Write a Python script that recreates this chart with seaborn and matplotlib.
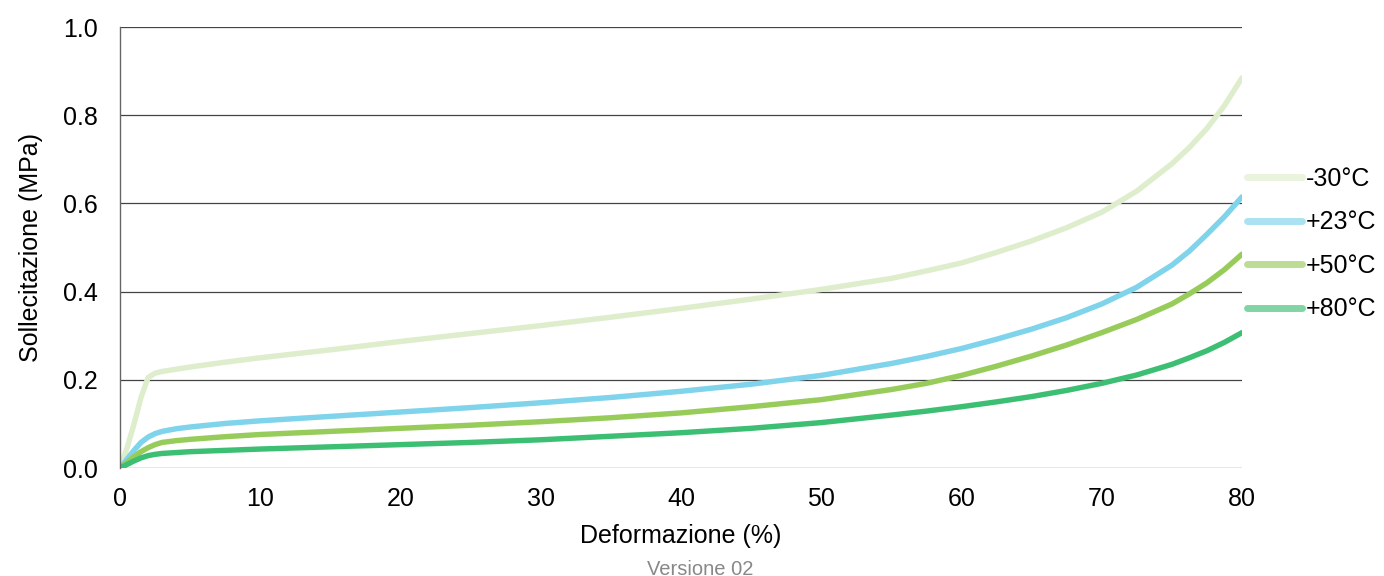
import numpy as np
import pandas as pd
import seaborn as sns
import matplotlib.pyplot as plt

# strain (%) sampled along each curve
strain = [0, 0.5, 1, 1.5, 2, 2.5, 3, 4, 5, 7.5, 10, 15, 20, 25, 30, 35,
          40, 45, 50, 55, 57.5, 60, 62.5, 65, 67.5, 70, 72.5, 75, 76.25,
          77.5, 78.75, 80]

stress_m30 = [0, 0.045, 0.10, 0.16, 0.205, 0.215, 0.219, 0.224, 0.229, 0.24,
              0.25, 0.268, 0.287, 0.305, 0.323, 0.342, 0.362, 0.383, 0.405,
              0.43, 0.447, 0.465, 0.489, 0.515, 0.545, 0.58, 0.628, 0.69,
              0.727, 0.77, 0.822, 0.885]
stress_p23 = [0, 0.02, 0.04, 0.058, 0.07, 0.078, 0.083, 0.089, 0.093, 0.101,
              0.107, 0.117, 0.127, 0.137, 0.148, 0.16, 0.174, 0.19, 0.21,
              0.237, 0.253, 0.271, 0.292, 0.315, 0.341, 0.372, 0.41, 0.46,
              0.492, 0.53, 0.57, 0.615]
stress_p50 = [0, 0.013, 0.026, 0.037, 0.046, 0.053, 0.058, 0.062, 0.065, 0.071,
              0.076, 0.083, 0.09, 0.097, 0.105, 0.114, 0.125, 0.139, 0.155,
              0.178, 0.192, 0.21, 0.231, 0.254, 0.279, 0.307, 0.337, 0.372,
              0.395, 0.42, 0.45, 0.485]
stress_p80 = [0, 0.008, 0.016, 0.023, 0.028, 0.031, 0.033, 0.035, 0.037, 0.04,
              0.043, 0.048, 0.053, 0.058, 0.064, 0.072, 0.08, 0.09, 0.103,
              0.12, 0.129, 0.139, 0.15, 0.162, 0.176, 0.192, 0.211, 0.235,
              0.25, 0.266, 0.285, 0.307]

labels = ["-30°C", "+23°C", "+50°C", "+80°C"]
colors = ["#deedcc", "#7fd3ea", "#98cc5a", "#3dbf73"]

frames = []
for lab, vals in zip(labels, [stress_m30, stress_p23, stress_p50, stress_p80]):
    frames.append(pd.DataFrame({"strain": strain, "stress": vals, "temp": lab}))
df = pd.concat(frames, ignore_index=True)

sns.set_theme(style="white")
plt.rcParams["font.family"] = ["Liberation Sans", "DejaVu Sans"]
plt.rcParams["text.color"] = "black"
plt.rcParams["axes.labelcolor"] = "black"
plt.rcParams["xtick.color"] = "black"
plt.rcParams["ytick.color"] = "black"

fig = plt.figure(figsize=(13.84, 5.76), dpi=100)
ax = fig.add_axes([0.0867, 0.1875, 0.8107, 0.7655])

sns.lineplot(data=df, x="strain", y="stress", hue="temp", hue_order=labels,
             palette=colors, linewidth=3.9, ax=ax, legend=False)

ax.set_xlim(0, 80)
ax.set_ylim(0, 1.0)
ax.set_xticks(np.arange(0, 81, 10))
ax.set_yticks(np.arange(0, 1.01, 0.2))
ax.set_yticklabels([f"{v:.1f}" for v in np.arange(0, 1.01, 0.2)])
ax.tick_params(axis="x", labelsize=18, length=0, pad=14)
ax.tick_params(axis="y", labelsize=18, length=0, pad=16)
ax.yaxis.grid(True, color="#444444", linewidth=0.9)
ax.set_axisbelow(True)
for s in ["top", "right", "bottom"]:
    ax.spines[s].set_visible(False)
ax.spines["left"].set_color("#666666")
ax.spines["left"].set_linewidth(1.0)

ax.set_xlabel("Deformazione (%)", fontsize=18, labelpad=9)
ax.set_ylabel("Sollecitazione (MPa)", fontsize=18, labelpad=14)

handles = [plt.Line2D([], [], color=c, linewidth=5, alpha=0.65) for c in colors]
ax.legend(handles, labels, loc="center left", bbox_to_anchor=(1.0, 0.508),
          frameon=False, fontsize=18, handlelength=2.2, handletextpad=0.15,
          labelspacing=0.78, borderaxespad=0, borderpad=0.2)

fig.text(0.506, 0.012, "Versione 02", ha="center", va="center",
         fontsize=14.5, color="#888888")

fig.savefig("out.png", dpi=100)
